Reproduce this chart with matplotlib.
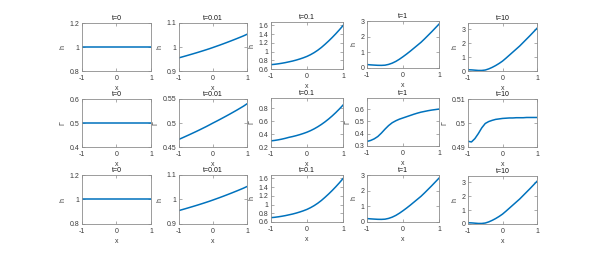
import matplotlib
matplotlib.use("Agg")
import matplotlib.pyplot as plt

plt.rcParams['font.family'] = ['Liberation Sans', 'DejaVu Sans']

x = [-1.0, -0.9, -0.8, -0.7, -0.6, -0.5, -0.4, -0.3, -0.2, -0.1, 0.0,
     0.1, 0.2, 0.3, 0.4, 0.5, 0.6, 0.7, 0.8, 0.9, 1.0]

times = ["t=0", "t=0.01", "t=0.1", "t=1", "t=10"]

# film height h at each time
h_t0 = [1.0] * 21
h_t001 = [0.955, 0.9589, 0.9629, 0.9670, 0.9711, 0.9753, 0.9796, 0.9840, 0.9885, 0.9931, 0.998,
          1.003, 1.008, 1.0132, 1.0185, 1.0239, 1.0294, 1.035, 1.0407, 1.0465, 1.053]
h_t01 = [0.700, 0.708, 0.719, 0.732, 0.747, 0.765, 0.783, 0.805, 0.830, 0.858, 0.890,
         0.930, 0.977, 1.032, 1.095, 1.167, 1.243, 1.324, 1.410, 1.501, 1.597]
h_t1 = [0.22, 0.20, 0.185, 0.172, 0.168, 0.18, 0.23, 0.31, 0.42, 0.56, 0.72,
        0.89, 1.07, 1.26, 1.45, 1.64, 1.86, 2.09, 2.32, 2.56, 2.80]
h_t10 = [0.09, 0.08, 0.06, 0.04, 0.04, 0.07, 0.15, 0.26, 0.39, 0.54, 0.71,
         0.92, 1.14, 1.36, 1.58, 1.80, 2.05, 2.30, 2.55, 2.81, 3.07]

# surfactant concentration Gamma
g_t0 = [0.5] * 21
g_t001 = [0.466, 0.4691, 0.4723, 0.4755, 0.4788, 0.4821, 0.4855, 0.4890, 0.4925, 0.4962, 0.500,
          0.5036, 0.5073, 0.5111, 0.5149, 0.5188, 0.5228, 0.5268, 0.5310, 0.5352, 0.540]
g_t01 = [0.295, 0.302, 0.311, 0.322, 0.335, 0.350, 0.362, 0.376, 0.392, 0.410, 0.430,
         0.454, 0.482, 0.514, 0.550, 0.590, 0.634, 0.682, 0.734, 0.790, 0.850]
g_t1 = [0.337, 0.345, 0.358, 0.377, 0.405, 0.437, 0.466, 0.489, 0.505, 0.518, 0.528,
        0.538, 0.548, 0.558, 0.567, 0.575, 0.581, 0.587, 0.592, 0.596, 0.600]
g_t10 = [0.4924, 0.4921, 0.4935, 0.4956, 0.4980, 0.4998, 0.5006, 0.5011, 0.5015, 0.5017, 0.5019,
         0.5020, 0.5021, 0.5021, 0.5022, 0.5022, 0.5022, 0.5023, 0.5023, 0.5023, 0.5023]

h_all = [h_t0, h_t001, h_t01, h_t1, h_t10]
g_all = [g_t0, g_t001, g_t01, g_t1, g_t10]

h_lims = [(0.8, 1.2), (0.9, 1.1), (0.6, 1.68), (0, 3), (0, 3.45)]
h_ticks = [[0.8, 1, 1.2], [0.9, 1, 1.1], [0.6, 0.8, 1, 1.2, 1.4, 1.6], [0, 1, 2, 3], [0, 1, 2, 3]]
g_lims = [(0.4, 0.6), (0.45, 0.55), (0.2, 0.96), (0.3, 0.69), (0.49, 0.51)]
g_ticks = [[0.4, 0.5, 0.6], [0.45, 0.5, 0.55], [0.2, 0.4, 0.6, 0.8], [0.3, 0.4, 0.5, 0.6], [0.49, 0.5, 0.51]]

# axes boxes in pixels: left, right, top, bottom
cols = [(82, 151), (179, 247), (271, 343), (367, 439), (468, 537)]
rows_y = [
    [(23, 71), (23, 71), (22, 69), (21, 68), (23, 71)],
    [(99, 147), (99, 147), (98, 147), (98, 146), (99, 147)],
    [(175, 224), (175, 224), (175, 222), (175, 222), (176, 224)],
]

W, H = 593, 256
fig = plt.figure(figsize=(W / 100, H / 100), dpi=100)

blue = '#0072BD'
edge = '#8c8c8c'
txt = '#3a3a3a'
fs = 5


def panel(r, c, y, ylim, yticks, ylabel):
    l, rr = cols[c]
    t, b = rows_y[r][c]
    ax = fig.add_axes([l / W, 1 - b / H, (rr - l) / W, (b - t) / H])
    ax.plot(x, y, color=blue, lw=1.1)
    ax.set_xlim(-1, 1)
    ax.set_ylim(*ylim)
    ax.set_xticks([-1, 0, 1])
    ax.set_xticklabels(['-1', '0', '1'])
    ax.set_yticks(yticks)
    ax.set_yticklabels(['%g' % v for v in yticks])
    ax.tick_params(direction='in', length=2, width=0.5, top=True, right=True,
                   labelsize=fs, color=edge, labelcolor=txt, pad=2)
    ax.tick_params(axis='x', pad=3)
    for s in ax.spines.values():
        s.set_linewidth(0.6)
        s.set_color(edge)
    ax.set_title(times[c], fontsize=fs, color='#111111', pad=2)
    ax.set_xlabel('x', fontsize=fs, color=txt, labelpad=2)
    ax.set_ylabel(ylabel, fontsize=fs, color=txt, labelpad=2)
    return ax


for c in range(5):
    panel(0, c, h_all[c], h_lims[c], h_ticks[c], 'h')
    panel(1, c, g_all[c], g_lims[c], g_ticks[c], 'Γ')
    panel(2, c, h_all[c], h_lims[c], h_ticks[c], 'h')

fig.savefig('out.png', dpi=100)
